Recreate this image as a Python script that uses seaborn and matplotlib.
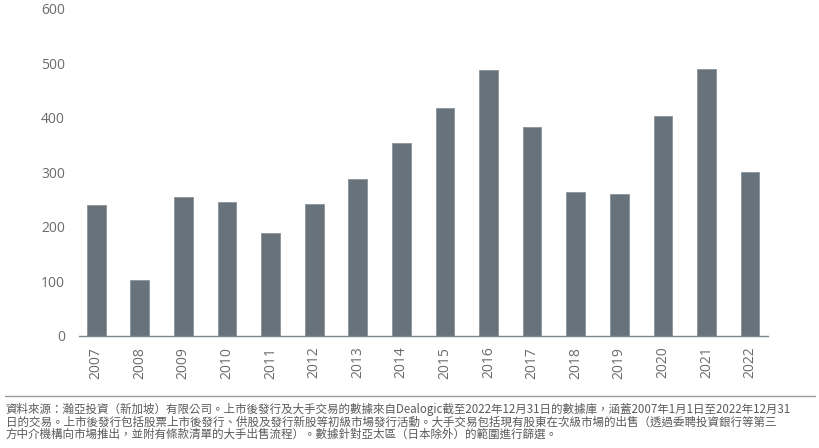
import numpy as np
import pandas as pd
import matplotlib
matplotlib.use('Agg')
import matplotlib.pyplot as plt
import seaborn as sns

# data
years = ['2007', '2008', '2009', '2010', '2011', '2012', '2013', '2014',
         '2015', '2016', '2017', '2018', '2019', '2020', '2021', '2022']
values = [239, 102, 255, 245, 188, 242, 287, 353,
          418, 487, 383, 263, 260, 404, 489, 300]
y_ticks = [0, 100, 200, 300, 400, 500, 600]

note_lines = [
    '資料來源：瀚亞投資（新加坡）有限公司。上市後發行及大手交易的數據來自Dealogic截至2022年12月31日的數據庫，涵蓋2007年1月1日至2022年12月31',
    '日的交易。上市後發行包括股票上市後發行、供股及發行新股等初級市場發行活動。大手交易包括現有股東在次級市場的出售（透過委聘投資銀行等第三',
    '方中介機構向市場推出，並附有條款清單的大手出售流程）。數據針對亞太區（日本除外）的範圍進行篩選。',
]

df = pd.DataFrame({'year': years, 'value': values})

sns.set_theme(style='white')
plt.rcParams['font.family'] = ['Open Sans', 'Noto Sans CJK TC', 'DejaVu Sans']

bar_color = '#67727a'
text_color = '#6b6b6b'

fig = plt.figure(figsize=(8.2, 4.48), dpi=100)
ax = fig.add_axes([0.096, 0.251, 0.840, 0.729])

sns.barplot(data=df, x='year', y='value', color=bar_color, width=0.43,
            saturation=1, edgecolor='#8a949b', linewidth=0.6, ax=ax)

ax.set_xlim(-0.4, 15.4)
ax.set_ylim(0, 600)
ax.set_yticks(y_ticks)
ax.set_xlabel('')
ax.set_ylabel('')

for s in ['top', 'right', 'left']:
    ax.spines[s].set_visible(False)
ax.spines['bottom'].set_color('#7d878e')
ax.spines['bottom'].set_linewidth(1.0)

ax.tick_params(axis='y', length=0, pad=10, labelsize=10, labelcolor=text_color)
ax.tick_params(axis='x', length=0, pad=8, labelsize=10, labelcolor=text_color,
               labelrotation=90)
for lab in ax.get_xticklabels():
    lab.set_verticalalignment('top')

# footnote rule and text
fig.add_artist(plt.Line2D([0.006, 0.994], [0.116, 0.116], color='#9a9a9a',
                          linewidth=1.0, transform=fig.transFigure))
for i, line in enumerate(note_lines):
    fig.text(0.007, 0.086 - i * 0.028, line, fontsize=8.3, color='#5a5a5a',
             family=['Noto Sans CJK TC', 'DejaVu Sans'], va='center', ha='left')

fig.savefig('out.png', dpi=100)
